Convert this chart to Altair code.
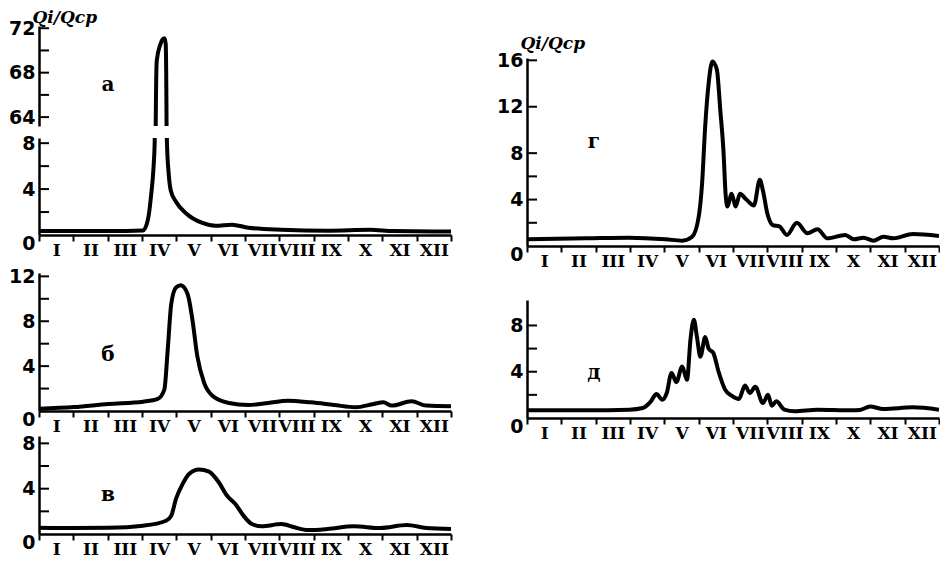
import json
import altair as alt
import pandas as pd

# ---------------- data ----------------
MONTHS = ["I", "II", "III", "IV", "V", "VI", "VII", "VIII", "IX", "X", "XI", "XII"]
Y_TITLE = "Qi/Qср"

# panel а (broken axis 0–8 / 64–72)
A_M = [0.0, 1.0, 2.0, 3.03, 3.17, 3.27, 3.34, 3.37, 3.40, 3.43, 3.53, 3.60, 3.655, 3.69,
       3.715, 3.725, 3.78, 3.84, 3.99, 4.28, 4.76, 5.14, 5.62, 6.10, 7.06, 8.40, 9.65, 10.32, 12.0]
A_V = [0.35, 0.35, 0.35, 0.4, 1.3, 3.6, 6.1, 8.2, 63.4, 69.1, 70.5, 71.0, 71.1, 70.6,
       63.4, 8.2, 5.25, 3.85, 2.9, 1.9, 1.05, 0.8, 0.9, 0.63, 0.46, 0.38, 0.46, 0.34, 0.3]

# panel б
B_M = [0.0, 1.02, 2.02, 3.03, 3.46, 3.65, 3.75, 3.85, 3.99, 4.13, 4.33, 4.47, 4.61, 4.81,
       5.05, 5.53, 6.10, 6.68, 7.25, 7.92, 8.59, 9.22, 9.75, 10.03, 10.27, 10.85, 11.28, 12.0]
B_V = [0.2, 0.35, 0.63, 0.83, 1.07, 1.9, 5.5, 9.5, 11.0, 11.2, 10.4, 8.1, 4.9, 2.5,
       1.36, 0.72, 0.54, 0.72, 0.92, 0.77, 0.54, 0.33, 0.63, 0.77, 0.48, 0.86, 0.48, 0.42]

# panel в
V_M = [0.0, 1.02, 2.02, 3.03, 3.70, 3.85, 3.99, 4.18, 4.37, 4.66, 4.95, 5.24, 5.48, 5.72,
       5.96, 6.20, 6.48, 7.06, 7.44, 7.83, 8.40, 9.17, 9.94, 10.71, 11.28, 12.0]
V_V = [0.55, 0.53, 0.55, 0.73, 1.17, 1.6, 3.1, 4.4, 5.3, 5.7, 5.5, 4.55, 3.37, 2.65,
       1.6, 0.88, 0.68, 0.88, 0.59, 0.35, 0.44, 0.68, 0.53, 0.79, 0.53, 0.44]

# panel г
G_M = [0.0, 1.73, 2.98, 4.04, 4.52, 4.81, 5.0, 5.1, 5.19, 5.29, 5.40, 5.53, 5.63, 5.72,
       5.79, 5.84, 5.96, 6.08, 6.20, 6.39, 6.61, 6.78, 6.87, 7.0, 7.16, 7.35, 7.57, 7.86,
       8.17, 8.46, 8.75, 9.27, 9.52, 9.80, 10.09, 10.38, 10.67, 11.24, 12.0]
G_V = [0.58, 0.66, 0.72, 0.58, 0.46, 0.8, 2.5, 5.4, 10.3, 14.0, 15.9, 15.2, 11.7, 8.3,
       4.25, 3.4, 4.5, 3.4, 4.5, 4.0, 3.5, 5.7, 4.8, 2.8, 1.8, 1.7, 0.95, 2.0,
       1.1, 1.44, 0.66, 0.95, 0.58, 0.72, 0.46, 0.8, 0.66, 1.03, 0.86]

# panel д
D_M = [0.0, 1.73, 2.98, 3.37, 3.61, 3.77, 3.94, 4.07, 4.21, 4.35, 4.52, 4.66, 4.76, 4.86,
       4.95, 5.05, 5.19, 5.29, 5.43, 5.58, 5.77, 5.96, 6.17, 6.35, 6.49, 6.65, 6.87, 7.02,
       7.13, 7.26, 7.50, 7.79, 8.46, 9.42, 9.70, 9.99, 10.38, 11.24, 12.0]
D_V = [0.66, 0.66, 0.72, 0.86, 1.44, 2.07, 1.58, 2.16, 3.9, 3.1, 4.45, 3.3, 6.75, 8.5,
       7.0, 5.3, 7.0, 6.0, 5.6, 4.0, 2.45, 1.93, 1.64, 2.8, 2.16, 2.7, 1.3, 2.0,
       1.06, 1.44, 0.72, 0.58, 0.72, 0.66, 0.7, 1.0, 0.78, 0.92, 0.72]

# panel letters (month position, value)
LETTERS = ["а", "б", "в", "г", "д"]
LETTER_M = [2.01, 2.01, 2.01, 1.95, 1.95]
LETTER_V = [66.9, 5.0, 3.4, 9.0, 3.9]

# ---------------- helpers ----------------
MONTH_EXPR = "datum.value < 12 ? " + json.dumps(MONTHS) + "[datum.value] : ''"
W = 412


def panel(m, v, domain, height, tick_vals, label_vals, letter=None, show_x=True, title_y=None):
    df = pd.DataFrame({"m": m, "v": v})
    if show_x:
        x_axis = alt.Axis(values=list(range(13)), labelExpr=MONTH_EXPR,
                          labelOffset={"condition": {"test": "datum.value === 12", "value": 0},
                                       "value": W / 24},
                          labelFlush=False, labelOverlap=False, tickSize=6, tickWidth=2,
                          tickColor="black", domainWidth=2.5, domainColor="black",
                          labelFont="DejaVu Serif", labelFontWeight="bold", labelFontSize=17,
                          labelColor="black", labelPadding=1, grid=False, title=None,
                          minExtent=0)
    else:
        x_axis = None
    y_kw = dict(values=label_vals, ticks=False, tickSize=0, domainWidth=2.5,
                domainColor="black", labelFont="DejaVu Sans", labelFontWeight="bold",
                labelFontSize=19, labelColor="black", labelPadding=4, grid=False,
                minExtent=0,
                labelOffset={"condition": {"test": "datum.value === 0", "value": 8},
                             "value": 0})
    if title_y is not None:
        y_kw.update(title=Y_TITLE, titleAngle=0, titleAlign="left", titleBaseline="bottom",
                    titleX=-7, titleY=title_y, titleFont="DejaVu Serif",
                    titleFontStyle="italic", titleFontWeight="bold", titleFontSize=17,
                    titleColor="black")
    else:
        y_kw.update(title=None)
    y_axis = alt.Axis(**y_kw)
    x = alt.X("m:Q", scale=alt.Scale(domain=[0, 12], nice=False, zero=False), axis=x_axis)
    y = alt.Y("v:Q", scale=alt.Scale(domain=domain, nice=False, zero=False), axis=y_axis)

    line = alt.Chart(df).mark_line(clip=True, color="black", strokeWidth=4,
                                   interpolate="monotone").encode(x=x, y=y)
    ticks = alt.Chart(pd.DataFrame({"v": tick_vals})).mark_rule(
        color="black", strokeWidth=2).encode(y=y, x=alt.value(0), x2=alt.value(10))
    layers = [line, ticks]
    if letter is not None:
        i = LETTERS.index(letter)
        tdf = pd.DataFrame({"m": [LETTER_M[i]], "v": [LETTER_V[i]], "t": [letter]})
        layers.append(alt.Chart(tdf).mark_text(font="DejaVu Serif", fontWeight="bold",
                                               fontSize=20, color="black").encode(
            x=x, y=y, text="t:N"))
    return alt.layer(*layers).properties(width=W, height=height)


a_up = panel(A_M, A_V, [63.2, 72.2], 100, [64, 66, 68, 70, 72], [64, 68, 72],
             letter="а", show_x=False, title_y=0)
a_low = panel(A_M, A_V, [0, 8.45], 97, [2, 4, 6, 8], [0, 4, 8])
b = panel(B_M, B_V, [0, 12.3], 138, [2, 4, 6, 8, 10, 12], [0, 4, 8, 12], letter="б")
v = panel(V_M, V_V, [0, 8.65], 98, [2, 4, 6, 8], [0, 4, 8], letter="в")
g = panel(G_M, G_V, [0, 16.2], 188, [2, 4, 6, 8, 12, 16], [0, 4, 8, 12, 16], letter="г",
          title_y=-6)
d = panel(D_M, D_V, [0, 10.2], 118, [2, 4, 6, 8], [0, 4, 8], letter="д")

# invisible spacer that pushes the right column down
spacer = alt.Chart(pd.DataFrame({"m": [0]})).mark_point(opacity=0, size=0).encode(
    x=alt.X("m:Q", axis=None)).properties(width=W, height=1)

left = alt.vconcat(alt.vconcat(a_up, a_low, spacing=6),
                   alt.vconcat(b, v, spacing=0), spacing=9)
right = alt.vconcat(alt.vconcat(spacer, g, spacing=7), d, spacing=31)

chart = alt.hconcat(left, right, spacing=44).properties(padding=0).configure_view(stroke=None)

chart.save("out.html", embed_options={"renderer": "svg", "actions": False})
